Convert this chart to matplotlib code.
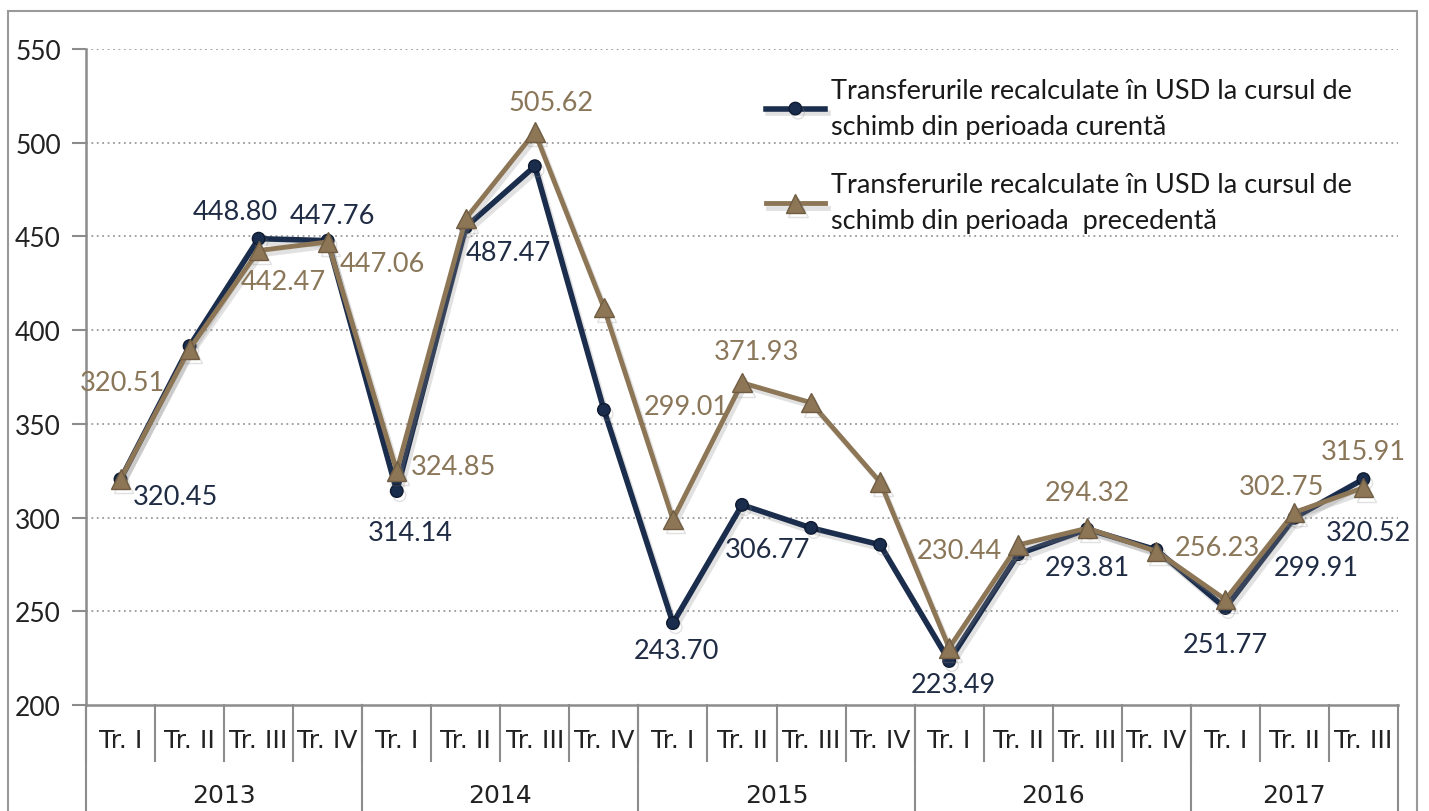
import numpy as np
import matplotlib
matplotlib.use('Agg')
import matplotlib.pyplot as plt
import matplotlib.patheffects as pe
from matplotlib.lines import Line2D
from matplotlib.patches import Rectangle
import matplotlib.transforms as mtransforms

plt.rcParams['font.family'] = ['Lato', 'DejaVu Sans']

# data
quarters = ['Tr. I', 'Tr. II', 'Tr. III', 'Tr. IV'] * 4 + ['Tr. I', 'Tr. II', 'Tr. III']
years = ['2013', '2014', '2015', '2016', '2017']
year_len = [4, 4, 4, 4, 3]

curent = [320.45, 391.5, 448.80, 447.76, 314.14, 455.0, 487.47, 357.5, 243.70, 306.77,
          294.5, 285.5, 223.49, 280.5, 293.81, 282.8, 251.77, 299.91, 320.52]
precedent = [320.51, 390.0, 442.47, 447.06, 324.85, 459.5, 505.62, 412.0, 299.01, 371.93,
             361.3, 319.0, 230.44, 285.4, 294.32, 282.0, 256.23, 302.75, 315.91]

label_cur = ['320.45', None, '448.80', '447.76', '314.14', None, '487.47', None, '243.70', '306.77',
             None, None, '223.49', None, '293.81', None, '251.77', '299.91', '320.52']
label_pre = ['320.51', None, '442.47', '447.06', '324.85', None, '505.62', None, '299.01', '371.93',
             None, None, '230.44', None, '294.32', None, '256.23', '302.75', '315.91']

# label offsets in pixels (dx, dy down)
off_cur = {0: (55, 17), 2: (-23, -27), 3: (5, -25), 4: (14, 41), 6: (-26, 86), 8: (3, 27),
           9: (26, 45), 12: (4, 24), 14: (0, 38), 16: (0, 37), 17: (22, 50), 18: (5, 53)}
off_pre = {0: (2, -97), 2: (25, 31), 3: (55, 22), 4: (57, -4), 6: (16, -30), 8: (13, -113),
           9: (14, -31), 12: (10, -97), 14: (0, -36), 16: (-8, -52), 17: (-13, -26), 18: (0, -36)}

navy = '#1b2d4c'
brown = '#8d7656'
navy_txt = '#1f2c44'
brown_txt = '#8a7658'
grey = '#8c8c8c'

W, H = 1429, 812
fig = plt.figure(figsize=(W / 100, H / 100), dpi=100)
fig.patches.append(Rectangle((8 / W, -0.05), 1409 / W, 1.05 - 12 / H, transform=fig.transFigure,
                             fill=False, edgecolor='#9a9a9a', linewidth=1.5))

ax = fig.add_axes([86 / W, 1 - 706 / H, (1398 - 86) / W, (706 - 50) / H])
x = np.arange(len(quarters))

shadow = [pe.SimpleLineShadow(offset=(2, -3), shadow_color='#888888', alpha=0.25), pe.Normal()]
ax.plot(x, curent, color=navy, lw=4, marker='o', ms=9, mfc=navy, mec='#0e1a30',
        label='Transferurile recalculate în USD la cursul de\nschimb din perioada curentă',
        zorder=3, path_effects=shadow)
ax.plot(x, precedent, color=brown, lw=3.5, marker='^', ms=14, mfc=brown, mec='#6f5c42',
        label='Transferurile recalculate în USD la cursul de\nschimb din perioada  precedentă',
        zorder=4, path_effects=shadow)

lab_fs = 19.5
for i, t in enumerate(label_cur):
    if t:
        dx, dy = off_cur[i]
        ax.annotate(t, (i, curent[i]), xytext=(dx, -dy), textcoords='offset pixels',
                    ha='center', va='center', fontsize=lab_fs, color=navy_txt, zorder=6)
for i, t in enumerate(label_pre):
    if t:
        dx, dy = off_pre[i]
        ax.annotate(t, (i, precedent[i]), xytext=(dx, -dy), textcoords='offset pixels',
                    ha='center', va='center', fontsize=lab_fs, color=brown_txt, zorder=6)

ax.set_xlim(-0.5, len(quarters) - 0.5)
ax.set_ylim(200, 550)
ax.set_yticks(np.arange(200, 551, 50))
ax.tick_params(axis='y', length=10, width=1.5, color=grey, labelsize=19, pad=8, labelcolor='#222222')
ax.set_xticks([])
for y in range(250, 551, 50):
    ax.axhline(y, color='#9a9a9a', lw=1.3, ls=(0, (1, 2)), zorder=1)
for s in ['top', 'right']:
    ax.spines[s].set_visible(False)
for s in ['left', 'bottom']:
    ax.spines[s].set_color(grey)
    ax.spines[s].set_linewidth(1.8)

# category axis
trans = mtransforms.blended_transform_factory(ax.transData, ax.transAxes)
ax_h = 706 - 50
qfont = ['Liberation Sans Narrow', 'DejaVu Sans']
for i, q in enumerate(quarters):
    ax.text(i, -35 / ax_h, q, transform=trans, ha='center', va='center', fontsize=18,
            color='#222222', family=qfont)
    ax.add_line(Line2D([i - 0.5, i - 0.5], [0, -56 / ax_h], transform=trans, color=grey,
                       lw=1.5, clip_on=False))
start = 0
for y, n in zip(years, year_len):
    ax.add_line(Line2D([start - 0.5, start - 0.5], [0, -120 / ax_h], transform=trans,
                       color=grey, lw=1.5, clip_on=False))
    ax.text(start - 0.5 + n / 2, -90 / ax_h, y, transform=trans, ha='center', va='center',
            fontsize=18, color='#222222', family=qfont)
    start += n
ax.add_line(Line2D([start - 0.5, start - 0.5], [0, -120 / ax_h], transform=trans,
                   color=grey, lw=1.5, clip_on=False))

leg = ax.legend(loc='upper left', bbox_to_anchor=(752 / W, 1 - 65 / H), bbox_transform=fig.transFigure,
                frameon=False, fontsize=19.5, handlelength=2.2, handletextpad=0.2,
                labelspacing=1.25, borderpad=0)
for t in leg.get_texts():
    t.set_color('#1a1a1a')
    t.set_linespacing(1.55)

fig.savefig('out.png', dpi=100)
